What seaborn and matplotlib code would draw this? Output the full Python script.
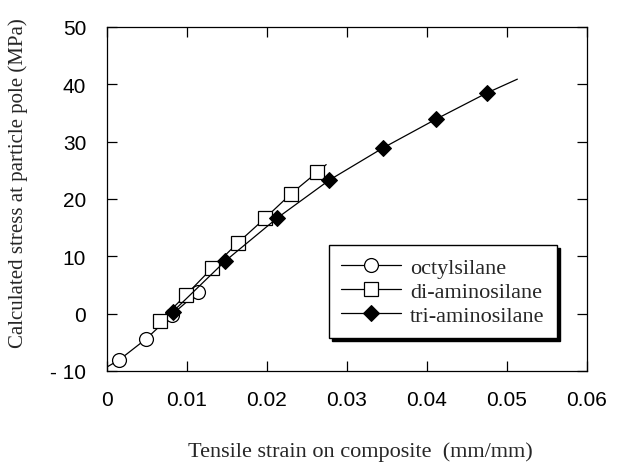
import matplotlib
matplotlib.use('Agg')
import matplotlib.pyplot as plt
import seaborn as sns
import numpy as np

# --- data ---
octyl_x = [0.0, 0.0015, 0.0049, 0.0081, 0.0114]
octyl_y = [-9.3, -8.1, -4.4, -0.2, 3.8]
octyl_marks = [1, 2, 3, 4]

diamino_x = [0.0066, 0.0099, 0.0131, 0.0164, 0.0198, 0.0230, 0.0263, 0.0274]
diamino_y = [-1.3, 3.3, 7.9, 12.4, 16.7, 20.9, 24.7, 26.0]
diamino_marks = [0, 1, 2, 3, 4, 5, 6]

triamino_x = [0.0082, 0.0148, 0.0213, 0.0278, 0.0345, 0.0411, 0.0475, 0.0513]
triamino_y = [0.3, 9.2, 16.7, 23.3, 28.9, 33.9, 38.5, 40.9]
triamino_marks = [0, 1, 2, 3, 4, 5, 6]

x_ticks = [0, 0.01, 0.02, 0.03, 0.04, 0.05, 0.06]
x_tick_labels = ['0', '0.01', '0.02', '0.03', '0.04', '0.05', '0.06']
y_ticks = [-10, 0, 10, 20, 30, 40, 50]
y_tick_labels = ['- 10', '0', '10', '20', '30', '40', '50']

sns.set_style("ticks")
plt.rcParams['font.family'] = ['Liberation Sans', 'DejaVu Sans']

fig = plt.figure(figsize=(6.18, 4.64), dpi=100)
ax = fig.add_axes([0.1731, 0.1983, 0.7767, 0.7414])

sns.lineplot(x=octyl_x, y=octyl_y, sort=False, ax=ax, color='black', lw=0.9,
             marker='o', markersize=10, markerfacecolor='white', markeredgecolor='black',
             markeredgewidth=0.9, markevery=octyl_marks, label='octylsilane')
sns.lineplot(x=diamino_x, y=diamino_y, sort=False, ax=ax, color='black', lw=0.9,
             marker='s', markersize=9.5, markerfacecolor='white', markeredgecolor='black',
             markeredgewidth=0.9, markevery=diamino_marks, label='di-aminosilane')
sns.lineplot(x=triamino_x, y=triamino_y, sort=False, ax=ax, color='black', lw=0.9,
             marker='D', markersize=8, markerfacecolor='black', markeredgecolor='black',
             markevery=triamino_marks, label='tri-aminosilane')

ax.set_xlim(0, 0.06)
ax.set_ylim(-10, 50)
ax.set_xticks(x_ticks)
ax.set_xticklabels(x_tick_labels)
ax.set_yticks(y_ticks)
ax.set_yticklabels(y_tick_labels)
ax.tick_params(direction='in', length=7, width=0.9, labelsize=15, colors='black',
               top=True, right=True)
ax.tick_params(axis='x', pad=14)
ax.tick_params(axis='y', pad=15)
for s in ax.spines.values():
    s.set_visible(True)
    s.set_color('black')
    s.set_linewidth(0.9)

serif = ['Liberation Serif', 'DejaVu Serif']
ax.set_xlabel('Tensile strain on composite  (mm/mm)', family=serif, fontsize=16)
ax.set_ylabel('Calculated stress at particle pole (MPa)', family=serif, fontsize=15)
ax.xaxis.set_label_coords(0.527, -0.203)
ax.yaxis.set_label_coords(-0.165, 0.549)

leg = ax.legend(loc='upper right', bbox_to_anchor=(0.9375, 0.366), borderaxespad=0,
                prop={'family': serif, 'size': 16},
                frameon=True, fancybox=False, edgecolor='black', framealpha=1,
                shadow={'color': 'black', 'alpha': 1}, handlelength=2.7, labelspacing=0.15,
                borderpad=0.55, handletextpad=0.4)
leg.get_frame().set_linewidth(1.0)

fig.savefig('out.png', dpi=100)
